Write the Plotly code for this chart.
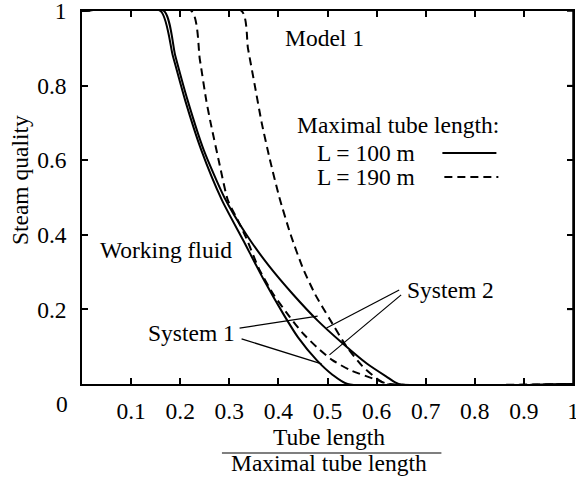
import plotly.graph_objects as go

# ---------------- data ----------------
x_ticks = [0.1, 0.2, 0.3, 0.4, 0.5, 0.6, 0.7, 0.8, 0.9, 1.0]
x_tick_labels = ["0.1", "0.2", "0.3", "0.4", "0.5", "0.6", "0.7", "0.8", "0.9", "1"]
y_ticks = [0.2, 0.4, 0.6, 0.8, 1.0]
y_tick_labels = ["0.2", "0.4", "0.6", "0.8", "1"]

# L = 100 m (solid)
sys1_L100_x = [0, 0.160, 0.185, 0.210, 0.243, 0.285, 0.328, 0.370, 0.409, 0.440, 0.478, 0.510, 0.541, 1.0]
sys1_L100_y = [1, 1, 0.88, 0.761, 0.627, 0.493, 0.386, 0.28, 0.19, 0.125, 0.064, 0.025, 0, 0]

sys2_L100_x = [0, 0.167, 0.190, 0.215, 0.248, 0.290, 0.335, 0.380, 0.430, 0.480, 0.530, 0.580, 0.620, 0.645, 1.0]
sys2_L100_y = [1, 1, 0.88, 0.761, 0.627, 0.50, 0.40, 0.318, 0.24, 0.17, 0.11, 0.055, 0.02, 0, 0]

# L = 190 m (dashed)
sys1_L190_x = [0, 0.223, 0.240, 0.253, 0.262, 0.280, 0.297, 0.317, 0.335, 0.360, 0.390, 0.423, 0.449, 0.478, 0.510, 0.545, 0.600, 0.625, 1.0]
sys1_L190_y = [1, 1, 0.87, 0.761, 0.70, 0.59, 0.493, 0.44, 0.39, 0.31, 0.24, 0.18, 0.137, 0.099, 0.064, 0.038, 0.011, 0, 0]

sys2_L190_x = [0, 0.325, 0.338, 0.352, 0.366, 0.383, 0.402, 0.425, 0.450, 0.475, 0.504, 0.539, 0.571, 0.602, 0.620, 1.0]
sys2_L190_y = [1, 1, 0.90, 0.80, 0.70, 0.60, 0.50, 0.40, 0.31, 0.24, 0.175, 0.10, 0.048, 0.013, 0, 0]

FONT = "Liberation Serif"
FS = 23.5

fig = go.Figure()

def add_curve(xs, ys, dash):
    fig.add_trace(go.Scatter(
        x=xs, y=ys, mode="lines",
        line=dict(color="black", width=2, dash=dash, shape="spline", smoothing=0.6),
        showlegend=False, hoverinfo="skip"))

add_curve(sys1_L100_x, sys1_L100_y, "solid")
add_curve(sys2_L100_x, sys2_L100_y, "solid")
add_curve(sys1_L190_x, sys1_L190_y, "8px,5px")
add_curve(sys2_L190_x, sys2_L190_y, "8px,5px")

axis_common = dict(
    range=[0, 1], showgrid=False, zeroline=False,
    showline=True, linecolor="black", linewidth=1.5, mirror="ticks",
    ticks="inside", ticklen=6, tickwidth=1.5, tickcolor="black",
    tickfont=dict(family=FONT, size=FS, color="black"),
    automargin=False, fixedrange=True, ticklabeloverflow="allow",
)

fig.update_layout(
    width=576, height=478,
    margin=dict(l=82, r=3, t=11, b=94, pad=0),
    paper_bgcolor="white", plot_bgcolor="white",
    xaxis=dict(**axis_common, tickvals=x_ticks, ticktext=x_tick_labels, ticklabelstandoff=5),
    yaxis=dict(**axis_common, tickvals=y_ticks, ticktext=y_tick_labels, ticklabelstandoff=9),
    font=dict(family=FONT, size=FS, color="black"),
)

# explicit right frame edge with its ticks
fig.add_shape(type="line", x0=1, x1=1, y0=0, y1=1, xref="paper", yref="paper",
              line=dict(color="black", width=1.5))
for yt in y_ticks:
    fig.add_shape(type="line", x0=1, x1=1 - 6 / 491, y0=yt, y1=yt, xref="paper", yref="y",
                  line=dict(color="black", width=1.5))

def txt(x, y, s, xanchor="center", xref="x", yref="y", angle=0):
    fig.add_annotation(x=x, y=y, text=s, xref=xref, yref=yref, showarrow=False,
                       xanchor=xanchor, yanchor="middle", textangle=angle,
                       font=dict(family=FONT, size=FS, color="black"))

txt(0.494, 0.928, "Model 1")
txt(0.643, 0.694, "Maximal tube length:")
txt(0.474, 0.619, "L = 100 m", xanchor="left")
txt(0.474, 0.555, "L = 190 m", xanchor="left")
txt(0.171, 0.359, "Working fluid")
txt(0.224, 0.137, "System 1")
txt(0.657, 0.252, "System 2", xanchor="left")

# legend key lines
fig.add_shape(type="line", x0=0.734, x1=0.844, y0=0.619, y1=0.619, xref="x", yref="y",
              line=dict(color="black", width=2))
fig.add_shape(type="line", x0=0.738, x1=0.848, y0=0.555, y1=0.555, xref="x", yref="y",
              line=dict(color="black", width=2, dash="8px,5px"))

# pointer lines
for (x0, y0, x1, y1) in [(0.321, 0.150, 0.480, 0.182), (0.325, 0.121, 0.488, 0.054),
                         (0.646, 0.252, 0.498, 0.150), (0.650, 0.239, 0.504, 0.078)]:
    fig.add_shape(type="line", x0=x0, y0=y0, x1=x1, y1=y1, xref="x", yref="y",
                  line=dict(color="black", width=1.2))

# corner "0"
txt(-0.041, -0.054, "0", xref="paper", yref="paper")
# axis titles
txt(-0.126, 0.547, "Steam quality", xref="paper", yref="paper", angle=-90)
txt(0.504, -0.143, "Tube length", xref="paper", yref="paper")
fig.add_shape(type="line", x0=0.285, x1=0.732, y0=-0.185, y1=-0.185, xref="paper", yref="paper",
              line=dict(color="black", width=1.2))
txt(0.504, -0.211, "Maximal tube length", xref="paper", yref="paper")

fig.write_html("out.html", config={"displayModeBar": False},
               post_script="document.body.style.margin='0';document.body.style.overflow='hidden';")
